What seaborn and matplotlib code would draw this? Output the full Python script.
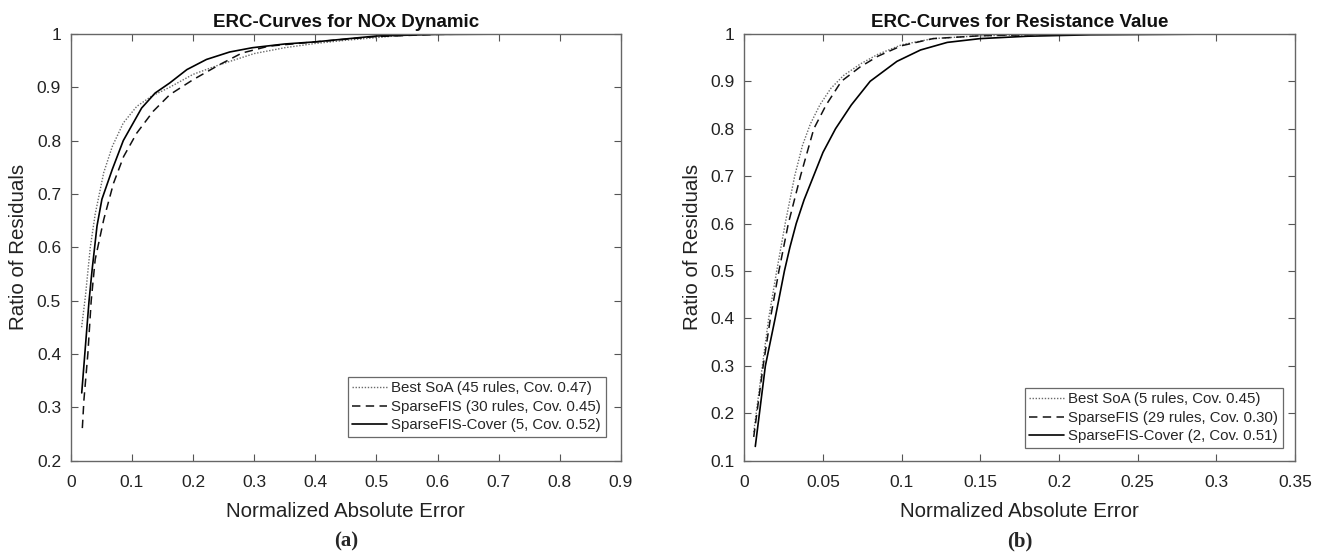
import numpy as np
import pandas as pd
import matplotlib
matplotlib.use("Agg")
import matplotlib.pyplot as plt
import seaborn as sns

# ---------------- data: panel (a) NOx Dynamic ----------------
a_soa_x = [0.0178, 0.024, 0.032, 0.04, 0.054, 0.068, 0.086, 0.108, 0.132, 0.162, 0.2, 0.243, 0.3, 0.35, 0.4, 0.45, 0.5, 0.57]
a_soa_y = [0.45, 0.508, 0.60, 0.662, 0.74, 0.789, 0.833, 0.864, 0.883, 0.90, 0.924, 0.942, 0.963, 0.974, 0.982, 0.988, 0.993, 1.0]
a_sfis_x = [0.019, 0.0216, 0.028, 0.0335, 0.04, 0.054, 0.07, 0.0865, 0.108, 0.135, 0.162, 0.2, 0.243, 0.28, 0.324, 0.4, 0.5, 0.6, 0.7, 0.867]
a_sfis_y = [0.261, 0.314, 0.40, 0.50, 0.577, 0.652, 0.72, 0.77, 0.814, 0.855, 0.886, 0.914, 0.942, 0.964, 0.977, 0.985, 0.995, 0.999, 1.0, 1.0]
a_cov_x = [0.018, 0.024, 0.03, 0.035, 0.043, 0.051, 0.068, 0.086, 0.116, 0.138, 0.162, 0.19, 0.222, 0.26, 0.297, 0.35, 0.4, 0.5, 0.6, 0.8]
a_cov_y = [0.327, 0.414, 0.50, 0.558, 0.64, 0.69, 0.746, 0.80, 0.861, 0.889, 0.908, 0.933, 0.952, 0.966, 0.974, 0.981, 0.985, 0.996, 0.999, 1.0]
a_labels = ["Best SoA (45 rules, Cov. 0.47)", "SparseFIS (30 rules, Cov. 0.45)", "SparseFIS-Cover (5, Cov. 0.52)"]

# ---------------- data: panel (b) Resistance Value ----------------
b_soa_x = [0.006, 0.0115, 0.0155, 0.0206, 0.026, 0.032, 0.037, 0.042, 0.048, 0.055, 0.063, 0.074, 0.085, 0.1, 0.12, 0.15, 0.2, 0.25, 0.32]
b_soa_y = [0.16, 0.30, 0.40, 0.50, 0.60, 0.70, 0.765, 0.81, 0.85, 0.885, 0.912, 0.937, 0.957, 0.977, 0.99, 0.996, 0.999, 1.0, 1.0]
b_sfis_x = [0.006, 0.012, 0.0166, 0.022, 0.028, 0.0357, 0.0442, 0.052, 0.0617, 0.0735, 0.085, 0.1, 0.12, 0.15, 0.2, 0.25, 0.32]
b_sfis_y = [0.15, 0.30, 0.40, 0.50, 0.60, 0.70, 0.80, 0.85, 0.90, 0.93, 0.953, 0.975, 0.99, 0.996, 0.999, 1.0, 1.0]
b_cov_x = [0.007, 0.0134, 0.0196, 0.0255, 0.029, 0.033, 0.038, 0.044, 0.05, 0.058, 0.068, 0.08, 0.097, 0.112, 0.129, 0.15, 0.18, 0.22, 0.27, 0.32]
b_cov_y = [0.13, 0.30, 0.40, 0.50, 0.55, 0.60, 0.65, 0.70, 0.75, 0.80, 0.85, 0.90, 0.942, 0.966, 0.982, 0.99, 0.995, 0.998, 0.999, 1.0]
b_labels = ["Best SoA (5 rules, Cov. 0.45)", "SparseFIS (29 rules, Cov. 0.30)", "SparseFIS-Cover (2, Cov. 0.51)"]

a_xticks = [0, 0.1, 0.2, 0.3, 0.4, 0.5, 0.6, 0.7, 0.8, 0.9]
a_yticks = [0.2, 0.3, 0.4, 0.5, 0.6, 0.7, 0.8, 0.9, 1.0]
b_xticks = [0, 0.05, 0.1, 0.15, 0.2, 0.25, 0.3, 0.35]
b_yticks = [0.1, 0.2, 0.3, 0.4, 0.5, 0.6, 0.7, 0.8, 0.9, 1.0]

sns.set_style("white")
plt.rcParams['font.family'] = ['Liberation Sans', 'DejaVu Sans']

def fmt(v):
    return "%g" % v

def make_df(xs, ys, labels):
    frames = []
    for x, y, lab in zip(xs, ys, labels):
        frames.append(pd.DataFrame({"x": x, "y": y, "series": lab}))
    return pd.concat(frames, ignore_index=True)

fig = plt.figure(figsize=(13.22, 5.55), dpi=100)
ax_a = fig.add_axes([0.0535, 0.170, 0.4162, 0.769])
ax_b = fig.add_axes([0.5630, 0.170, 0.4166, 0.769])

styles = {
    0: dict(color="#6a6a6a", lw=1.0, dashes=(1, 1.2)),
    1: dict(color="#111111", lw=1.1, dashes=(5.5, 3.5)),
    2: dict(color="#000000", lw=1.2, dashes=()),
}

def draw(ax, xs, ys, labels, xticks, yticks, xlim, ylim, title, letter, leg_anchor):
    df = make_df(xs, ys, labels)
    for i, lab in enumerate(labels):
        sub = df[df["series"] == lab]
        st = styles[i]
        sns.lineplot(data=sub, x="x", y="y", ax=ax, sort=False, estimator=None,
                     color=st["color"], linewidth=st["lw"], label=lab)
        l = ax.get_lines()[-1]
        if st["dashes"]:
            l.set_dashes(st["dashes"])
    ax.set_xlim(*xlim)
    ax.set_ylim(*ylim)
    ax.set_xticks(xticks)
    ax.set_yticks(yticks)
    ax.set_xticklabels([fmt(v) for v in xticks])
    ax.set_yticklabels([fmt(v) for v in yticks])
    ax.tick_params(direction="in", length=5, width=0.8, color="#555555",
                   labelsize=12.5, labelcolor="#222222", top=True, right=True,
                   bottom=True, left=True)
    ax.tick_params(axis="x", pad=10)
    ax.tick_params(axis="y", pad=7)
    for s in ax.spines.values():
        s.set_color("#666666")
        s.set_linewidth(1.0)
    ax.set_xlabel("Normalized Absolute Error", fontsize=14.8, color="#222222", labelpad=9)
    ax.set_ylabel("Ratio of Residuals", fontsize=14.8, color="#222222", labelpad=6)
    ax.set_title(title, fontsize=13.5, fontweight="bold", color="#111111", pad=5)
    leg = ax.legend(loc="lower right", bbox_to_anchor=leg_anchor, fontsize=10.8,
                    frameon=True, fancybox=False, edgecolor="#444444",
                    handlelength=2.3, handletextpad=0.3, borderpad=0.3,
                    labelspacing=0.3, borderaxespad=0.0)
    leg.get_frame().set_linewidth(0.9)
    ax.text(0.5, -0.19, letter, transform=ax.transAxes, ha="center", va="center",
            fontsize=15, fontweight="bold", family="Liberation Serif")

draw(ax_a, [a_soa_x, a_sfis_x, a_cov_x], [a_soa_y, a_sfis_y, a_cov_y], a_labels,
     a_xticks, a_yticks, (0, 0.9), (0.2, 1.0), "ERC-Curves for NOx Dynamic", "(a)",
     (0.972, 0.0555))
draw(ax_b, [b_soa_x, b_sfis_x, b_cov_x], [b_soa_y, b_sfis_y, b_cov_y], b_labels,
     b_xticks, b_yticks, (0, 0.35), (0.1, 1.0), "ERC-Curves for Resistance Value", "(b)",
     (0.978, 0.030))

fig.savefig("out.png", dpi=100)
